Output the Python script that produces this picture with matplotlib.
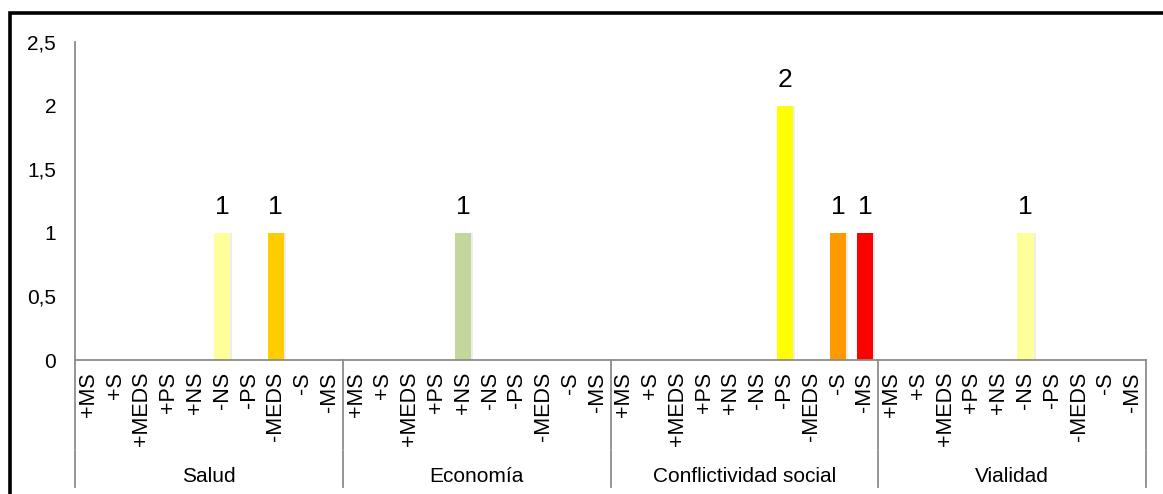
import matplotlib
matplotlib.use("Agg")
import matplotlib.pyplot as plt
from matplotlib.patches import Rectangle
import matplotlib.transforms as mtransforms

plt.rcParams['font.family'] = ['Liberation Sans', 'DejaVu Sans']

groups = ["Salud", "Economía", "Conflictividad social", "Vialidad"]
categories = ["+MS", "+S", "+MEDS", "+PS", "+NS", "-NS", "-PS", "-MEDS", "-S", "-MS"]

salud = [0, 0, 0, 0, 0, 1, 0, 1, 0, 0]
economia = [0, 0, 0, 0, 1, 0, 0, 0, 0, 0]
conflictividad = [0, 0, 0, 0, 0, 0, 2, 0, 1, 1]
vialidad = [0, 0, 0, 0, 0, 1, 0, 0, 0, 0]
series = [salud, economia, conflictividad, vialidad]

category_colors = {
    "+MS": "#4F81BD", "+S": "#4F81BD", "+MEDS": "#4F81BD", "+PS": "#9BBB59",
    "+NS": "#C3D69B", "-NS": "#FFFF99", "-PS": "#FFFF00", "-MEDS": "#FFCC00",
    "-S": "#FF9900", "-MS": "#FF0000",
}

yticks = [0, 0.5, 1, 1.5, 2, 2.5]
ytick_labels = ["0", "0,5", "1", "1,5", "2", "2,5"]

W, H = 1163, 494
fig = plt.figure(figsize=(W / 100, H / 100), dpi=100)

# outer frame
fig.patches.append(Rectangle((9.5 / W, -0.1), 1.2, (H - 13.5) / H + 0.1,
                             transform=fig.transFigure, fill=False,
                             edgecolor="black", linewidth=2.6, zorder=0))

left, right, top, bottom = 75, 1146, 42, 360
ax = fig.add_axes([left / W, 1 - bottom / H, (right - left) / W, (bottom - top) / H])

ncat = len(categories)
grey = "#8C8C8C"

for g, vals in enumerate(series):
    for i, (cat, v) in enumerate(zip(categories, vals)):
        x = g * ncat + i + 0.5
        if v > 0:
            ax.bar(x + 0.07, v, width=0.62, color="#000000", alpha=0.07, zorder=1)
            ax.bar(x, v, width=0.6, color=category_colors[cat], zorder=2)
            ax.text(x, v + 0.2, f"{v:g}", ha="center", va="center",
                    fontsize=19, color="black")

ax.set_xlim(0, len(groups) * ncat)
ax.set_ylim(0, 2.5)
ax.set_yticks(yticks)
ax.set_yticklabels(ytick_labels, fontsize=15)
ax.tick_params(axis="y", length=0, pad=13.5)
ax.set_xticks([])

for s in ["top", "right"]:
    ax.spines[s].set_visible(False)
ax.spines["left"].set_color(grey)
ax.spines["bottom"].set_color(grey)
ax.spines["left"].set_linewidth(1.3)
ax.spines["bottom"].set_linewidth(1.3)

trans = mtransforms.blended_transform_factory(ax.transData, ax.transAxes)
ph = bottom - top
y_gap_top = -(449 - bottom) / ph
y_gap_bot = -(451 - bottom) / ph
y_end = -(487 - bottom) / ph

for g in range(len(groups) + 1):
    xg = g * ncat
    ax.plot([xg, xg], [0, y_gap_top], color=grey, lw=1.3, transform=trans, clip_on=False)
    ax.plot([xg, xg], [y_gap_bot, y_end], color=grey, lw=1.3, transform=trans, clip_on=False)

for g, name in enumerate(groups):
    for i, cat in enumerate(categories):
        x = g * ncat + i + 0.5
        ax.text(x, -12 / ph, cat, rotation=90, ha="center", va="top",
                fontsize=15.5, transform=trans)
    ax.text(g * ncat + ncat / 2, -(476 - bottom) / ph, name, ha="center", va="center",
            fontsize=15, transform=trans)

fig.savefig("out.png", dpi=100, facecolor="white")
